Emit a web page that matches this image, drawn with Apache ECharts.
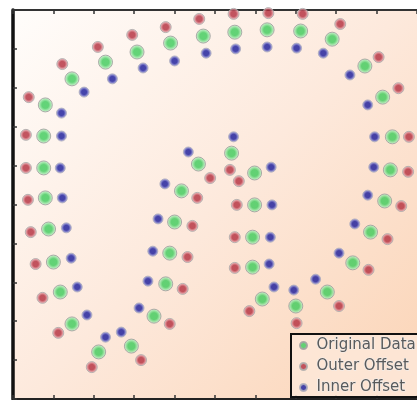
<!DOCTYPE html>
<html>
<head>
<meta charset="utf-8">
<title>Offset curves</title>
<script src="https://cdn.jsdelivr.net/npm/echarts@6/dist/echarts.min.js"></script>
<style>
	html, body {margin: 0; padding: 0; background: #fff;}
	#chart {width: 417px; height: 400px;}
</style>
</head>
<body>
<div id="chart"></div>
<script>
// values, one point per vertex
const originalData = [
	[5.49, 9.43], [6.29, 9.49], [7.12, 9.46], [7.90, 9.25], [8.71, 8.56], [9.15, 7.76], [9.39, 6.74],
	[9.34, 5.89], [9.20, 5.09], [8.85, 4.29], [8.41, 3.50], [7.78, 2.75], [7.00, 2.39], [6.17, 2.57],
	[5.93, 3.39], [5.93, 4.16], [5.98, 4.99], [5.98, 5.81], [5.41, 6.32], [4.59, 6.04], [4.17, 5.35],
	[4.00, 4.55], [3.88, 3.75], [3.78, 2.96], [3.49, 2.13], [2.93, 1.36], [2.12, 1.21], [1.46, 1.93],
	[1.17, 2.75], [1.00, 3.52], [0.88, 4.37], [0.80, 5.17], [0.76, 5.94], [0.76, 6.76], [0.80, 7.56],
	[1.46, 8.23], [2.29, 8.66], [3.07, 8.92], [3.90, 9.15], [4.71, 9.33]
];
const outerOffset = [
	[5.46, 9.90], [6.32, 9.92], [7.17, 9.90], [8.10, 9.64], [9.05, 8.79], [9.54, 7.99], [9.80, 6.74],
	[9.78, 5.84], [9.61, 4.96], [9.27, 4.11], [8.80, 3.32], [8.07, 2.39], [7.02, 1.95], [5.85, 2.26],
	[5.49, 3.37], [5.49, 4.16], [5.54, 4.99], [5.59, 5.60], [5.37, 5.89], [4.88, 5.68], [4.56, 5.17],
	[4.44, 4.45], [4.32, 3.65], [4.20, 2.83], [3.88, 1.93], [3.17, 1.00], [1.95, 0.82], [1.12, 1.70],
	[0.73, 2.60], [0.56, 3.47], [0.44, 4.29], [0.37, 5.12], [0.32, 5.94], [0.32, 6.79], [0.39, 7.76],
	[1.22, 8.61], [2.10, 9.05], [2.95, 9.36], [3.78, 9.56], [4.61, 9.77]
];
const innerOffset = [
	[5.51, 9.00], [6.29, 9.05], [7.02, 9.02], [7.68, 8.89], [8.34, 8.33], [8.78, 7.56], [8.95, 6.74],
	[8.93, 5.96], [8.78, 5.24], [8.46, 4.50], [8.07, 3.75], [7.49, 3.08], [6.95, 2.80], [6.46, 2.88],
	[6.34, 3.47], [6.37, 4.16], [6.41, 4.99], [6.39, 5.96], [5.46, 6.74], [4.34, 6.35], [3.76, 5.53],
	[3.59, 4.63], [3.46, 3.80], [3.34, 3.03], [3.12, 2.34], [2.68, 1.72], [2.29, 1.59], [1.83, 2.16],
	[1.59, 2.88], [1.44, 3.62], [1.32, 4.40], [1.22, 5.17], [1.17, 5.94], [1.20, 6.76], [1.20, 7.35],
	[1.76, 7.89], [2.46, 8.23], [3.22, 8.51], [4.00, 8.69], [4.78, 8.89]
];
const seriesNames = ["Original Data", "Outer Offset", "Inner Offset"];

const dot = (inner, outer) =>
	new echarts.graphic.RadialGradient(0.5, 0.5, 0.5, [
		{offset: 0, color: inner},
		{offset: 0.45, color: inner},
		{offset: 1, color: outer},
	]);

const axisCommon = {
	min: 0,
	max: 10,
	interval: 1,
	splitLine: {show: false},
	axisLabel: {show: false},
	axisTick: {show: true, inside: true, length: 4, lineStyle: {color: "#333", width: 1.5}},
};

const chart = echarts.init(document.getElementById("chart"), null, {renderer: "canvas"});

chart.setOption({
	backgroundColor: "#ffffff",
	animation: false,
	grid: {
		left: 13,
		top: 10,
		width: 410,
		height: 389,
		show: true,
		borderWidth: 0,
		backgroundColor: new echarts.graphic.LinearGradient(0, 0, 1, 1, [
			{offset: 0, color: "#fffdfb"},
			{offset: 0.5, color: "#fde9dc"},
			{offset: 1, color: "#fbd4b6"},
		]),
	},
	xAxis: [
		{...axisCommon, type: "value", position: "bottom",
			axisLine: {show: true, lineStyle: {color: "#222", width: 2}}},
		{...axisCommon, type: "value", position: "top",
			axisLine: {show: true, lineStyle: {color: "#333", width: 2}}},
	],
	yAxis: {
		...axisCommon,
		type: "value",
		axisLine: {show: true, lineStyle: {color: "#111", width: 3.5}},
	},
	legend: {
		type: "plain",
		orient: "vertical",
		left: 291,
		top: 334,
		padding: [3, 40, 1, 8],
		itemWidth: 16,
		itemHeight: 7,
		itemGap: 4,
		backgroundColor: "rgba(253,232,216,0.85)",
		borderColor: "#111",
		borderWidth: 2,
		borderRadius: 0,
		textStyle: {
			fontFamily: "DejaVu Sans",
			fontSize: 15,
			lineHeight: 17,
			color: "#5a5a5a",
			textBorderColor: "#eee",
			textBorderWidth: 1,
		},
		data: seriesNames.map((name) => ({name: name, icon: "circle"})),
	},
	series: [
		{
			name: seriesNames[0],
			type: "scatter",
			data: originalData,
			symbolSize: 14,
			itemStyle: {color: dot("#3ccb5a", "#d8f8da"), borderColor: "#9a9a9a", borderWidth: 1},
		},
		{
			name: seriesNames[1],
			type: "scatter",
			data: outerOffset,
			symbolSize: 11,
			itemStyle: {color: dot("#b32c3c", "#f6cfd3"), borderColor: "#a8a8a8", borderWidth: 1},
		},
		{
			name: seriesNames[2],
			type: "scatter",
			data: innerOffset,
			symbolSize: 10,
			itemStyle: {color: dot("#17189a", "#b9bbef"), borderColor: "#a8a8b8", borderWidth: 1},
		},
	],
});
</script>
</body>
</html>
